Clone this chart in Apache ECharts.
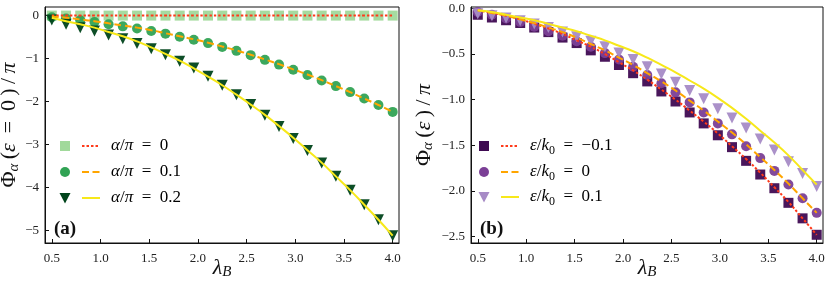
<!DOCTYPE html>
<html><head><meta charset="utf-8">
<script src="https://cdn.jsdelivr.net/npm/echarts@6/dist/echarts.min.js"></script>
<style>html,body{margin:0;padding:0;background:#fff}#c{width:830px;height:283px}</style>
</head><body><div id="c"></div>
<script>
// ---- data ----
const lambdaB = [0.5, 0.646, 0.792, 0.938, 1.083, 1.229, 1.375, 1.521, 1.667, 1.813, 1.958, 2.104, 2.25, 2.396, 2.542, 2.688, 2.833, 2.979, 3.125, 3.271, 3.417, 3.563, 3.708, 3.854, 4.0];
const xTicks = [0.5, 1.0, 1.5, 2.0, 2.5, 3.0, 3.5, 4.0];
const yTicksA = [0, -1, -2, -3, -4, -5];
const yTicksB = [0, -0.5, -1.0, -1.5, -2.0, -2.5];

// panel (a): markers
const aSquares = [0,0,0,0,0,0,0,0,0,0,0,0,0,0,0,0,0,0,0,0,0,0,0,0,0];
const aCircles = [-0.04,-0.07,-0.11,-0.15,-0.20,-0.25,-0.30,-0.36,-0.42,-0.49,-0.56,-0.64,-0.73,-0.82,-0.92,-1.03,-1.14,-1.26,-1.38,-1.51,-1.64,-1.78,-1.93,-2.08,-2.24];
const aTriangles = [-0.10,-0.20,-0.28,-0.36,-0.45,-0.54,-0.65,-0.77,-0.91,-1.06,-1.22,-1.41,-1.62,-1.84,-2.07,-2.32,-2.58,-2.86,-3.14,-3.43,-3.74,-4.06,-4.40,-4.75,-5.12];
// panel (a): lines
const aLine0 = [0,0,0,0,0,0,0,0,0,0,0,0,0,0,0,0,0,0,0,0,0,0,0,0,0];
const aLine1 = [-0.02,-0.05,-0.09,-0.13,-0.18,-0.23,-0.28,-0.34,-0.41,-0.48,-0.55,-0.63,-0.72,-0.81,-0.91,-1.02,-1.13,-1.25,-1.37,-1.50,-1.64,-1.78,-1.93,-2.08,-2.24];
const aLine2 = [-0.05,-0.13,-0.20,-0.28,-0.38,-0.48,-0.60,-0.74,-0.89,-1.05,-1.23,-1.42,-1.62,-1.84,-2.07,-2.31,-2.57,-2.84,-3.13,-3.42,-3.74,-4.06,-4.40,-4.75,-5.12];

// panel (b): markers
const bSquares = [-0.07,-0.10,-0.13,-0.16,-0.21,-0.26,-0.32,-0.38,-0.46,-0.53,-0.62,-0.71,-0.80,-0.91,-1.02,-1.14,-1.26,-1.39,-1.52,-1.67,-1.82,-1.97,-2.13,-2.30,-2.48];
const bCircles = [-0.04,-0.07,-0.11,-0.15,-0.20,-0.25,-0.30,-0.36,-0.42,-0.49,-0.56,-0.64,-0.73,-0.82,-0.92,-1.03,-1.14,-1.26,-1.38,-1.51,-1.64,-1.78,-1.93,-2.08,-2.24];
const bTriangles = [-0.06,-0.08,-0.105,-0.135,-0.17,-0.21,-0.26,-0.31,-0.36,-0.42,-0.49,-0.56,-0.64,-0.72,-0.81,-0.90,-0.99,-1.10,-1.20,-1.31,-1.43,-1.55,-1.68,-1.81,-1.95];
// panel (b): lines
const bLineM = [-0.02,-0.05,-0.08,-0.12,-0.17,-0.22,-0.28,-0.35,-0.42,-0.50,-0.59,-0.68,-0.78,-0.89,-1.00,-1.12,-1.24,-1.37,-1.51,-1.65,-1.80,-1.96,-2.12,-2.30,-2.48];
const bLine0 = [-0.02,-0.05,-0.08,-0.12,-0.16,-0.21,-0.26,-0.32,-0.39,-0.46,-0.54,-0.62,-0.71,-0.80,-0.90,-1.01,-1.12,-1.24,-1.36,-1.49,-1.63,-1.77,-1.92,-2.08,-2.24];
const bLineP = [-0.02,-0.04,-0.07,-0.10,-0.13,-0.17,-0.21,-0.25,-0.30,-0.35,-0.41,-0.47,-0.54,-0.62,-0.70,-0.79,-0.88,-0.98,-1.09,-1.21,-1.34,-1.47,-1.61,-1.77,-1.93];

// ---- styles ----
const SERIF = '"Liberation Serif", "DejaVu Serif", serif';
const greens = ['#a1d99b', '#31a354', '#00441b'];
const purples = ['#3f0a52', '#7b3f96', '#a78bc6'];
const lineCols = ['#ff3a1a', '#ffa500', '#f7e81a'];
const lineTypes = [[2.5, 2], [7, 3.5], 'solid'];

const pts = ys => lambdaB.map((x, i) => [x, ys[i]]);
const minus = s => s.replace('-', '−');

function makeRich(fs, ss, lh) {
  return {
    n: {fontFamily: SERIF, fontSize: fs, color: '#111', lineHeight: lh},
    i: {fontFamily: SERIF, fontSize: fs, fontStyle: 'italic', color: '#111', lineHeight: lh},
    s: {fontFamily: SERIF, fontSize: ss, fontStyle: 'italic', color: '#111', lineHeight: ss, verticalAlign: 'bottom'},
    su: {fontFamily: SERIF, fontSize: ss, color: '#111', lineHeight: ss, verticalAlign: 'bottom'}
  };
}
const richAxis = makeRich(22, 15, 24);
const richLeg = makeRich(17, 12, 21);
const T = '\u2009';

function xAxis(gi) {
  return {
    type: 'value', gridIndex: gi, min: 0.43, max: 4.065,
    name: '{i|λ}{s|B}', nameLocation: 'middle', nameGap: 13, nameMoveOverlap: false,
    nameTextStyle: {fontFamily: SERIF, fontSize: 22, rich: richAxis},
    axisLine: {show: true, onZero: false, lineStyle: {color: '#111', width: 1}},
    axisTick: {show: true, inside: true, length: 4, customValues: xTicks, lineStyle: {color: '#111'}},
    axisLabel: {customValues: xTicks, formatter: v => v.toFixed(1), fontFamily: SERIF, fontSize: 13, color: '#222', margin: 9},
    splitLine: {show: false}
  };
}
function yAxis(gi, min, max, ticks, fmt, name, gap) {
  return {
    type: 'value', gridIndex: gi, min: min, max: max,
    name: name, nameLocation: 'middle', nameGap: gap, nameRotate: 90,
    nameTextStyle: {fontFamily: SERIF, fontSize: 22, rich: richAxis},
    axisLine: {show: true, onZero: false, lineStyle: {color: '#111', width: 1}},
    axisTick: {show: true, inside: true, length: 4, customValues: ticks, lineStyle: {color: '#111'}},
    axisLabel: {customValues: ticks, formatter: fmt, fontFamily: SERIF, fontSize: 13, color: '#222', margin: 6},
    splitLine: {show: false}
  };
}

const series = [];
function addPanel(gi, markers, cols, lines) {
  const syms = ['rect', 'circle', 'triangle'];
  const sizes = [10, 10, 11];
  markers.forEach((m, k) => series.push({
    type: 'scatter', xAxisIndex: gi, yAxisIndex: gi, data: pts(m),
    symbol: syms[k], symbolSize: sizes[k], symbolRotate: k === 2 ? 180 : 0,
    itemStyle: {color: cols[k], opacity: 0.95}, z: 2, silent: true
  }));
  lines.forEach((l, k) => series.push({
    type: 'line', xAxisIndex: gi, yAxisIndex: gi, data: pts(l),
    smooth: true, symbol: 'none', showSymbol: false,
    lineStyle: {color: lineCols[k], width: 2, type: lineTypes[k]}, z: 3, silent: true
  }));
}
addPanel(0, [aSquares, aCircles, aTriangles], greens, [aLine0, aLine1, aLine2]);
addPanel(1, [bSquares, bCircles, bTriangles], purples, [bLineM, bLine0, bLineP]);

// legend drawn as graphics
function legendGraphics(x0, ys, cols, labels) {
  const els = [];
  ys.forEach((y, k) => {
    if (k === 0) els.push({type: 'rect', shape: {x: x0 - 5, y: y - 5, width: 10, height: 10}, style: {fill: cols[0]}});
    if (k === 1) els.push({type: 'circle', shape: {cx: x0, cy: y, r: 5}, style: {fill: cols[1]}});
    if (k === 2) els.push({type: 'polygon', shape: {points: [[x0 - 5.5, y - 5], [x0 + 5.5, y - 5], [x0, y + 5.5]]}, style: {fill: cols[2]}});
    const ld = lineTypes[k] === 'solid' ? null : lineTypes[k];
    els.push({type: 'line', shape: {x1: x0 + 17, y1: y, x2: x0 + 35, y2: y},
      style: {stroke: lineCols[k], lineWidth: 2, lineDash: ld}});
    els.push({type: 'text', x: x0 + 46, y: y, style: {text: labels[k], rich: richLeg, verticalAlign: 'middle', align: 'left'}});
  });
  return els;
}
const labA = [
  '{i|α}{n|/}{i|π}{n|  =  0}',
  '{i|α}{n|/}{i|π}{n|  =  0.1}',
  '{i|α}{n|/}{i|π}{n|  =  0.2}'
];
const labB = [
  '{i|ε}{n|/}{i|k}{su|0}{n|  =  −0.1}',
  '{i|ε}{n|/}{i|k}{su|0}{n|  =  0}',
  '{i|ε}{n|/}{i|k}{su|0}{n|  =  0.1}'
];
const graphics = [].concat(
  legendGraphics(65, [146, 172, 198], greens, labA),
  legendGraphics(484, [146, 172, 197], purples, labB),
  [
    {type: 'text', x: 54, y: 229, style: {text: '(a)', font: 'bold 19px ' + SERIF, fill: '#111', verticalAlign: 'middle'}},
    {type: 'text', x: 480, y: 229, style: {text: '(b)', font: 'bold 19px ' + SERIF, fill: '#111', verticalAlign: 'middle'}}
  ]
);

const nameA = '{n|Φ}{s|α}{n|' + T + '(}{i|ε}{n|' + T + ' = ' + T + '0' + T + ')' + T + '/}{i|' + T + 'π}';
const nameB = '{n|Φ}{s|α}{n|' + T + '(}{i|ε}{n|' + T + ')' + T + '/}{i|' + T + 'π}';

const chart = echarts.init(document.getElementById('c'), null, {renderer: 'canvas'});
chart.setOption({
  animation: false,
  backgroundColor: '#fff',
  grid: [
    {left: 45, top: 7, width: 354, height: 236, show: true, borderColor: '#111', borderWidth: 1, backgroundColor: 'transparent', containLabel: false, outerBoundsMode: 'none'},
    {left: 471, top: 7, width: 352, height: 236, show: true, borderColor: '#111', borderWidth: 1, backgroundColor: 'transparent', containLabel: false, outerBoundsMode: 'none'}
  ],
  xAxis: [xAxis(0), xAxis(1)],
  yAxis: [
    yAxis(0, -5.29, 0.2, yTicksA, v => minus(String(v)), nameA, 20),
    yAxis(1, -2.57, 0.015, yTicksB, v => minus(v.toFixed(1)), nameB, 35)
  ],
  series: series,
  graphic: graphics
});
</script>
</body></html>
